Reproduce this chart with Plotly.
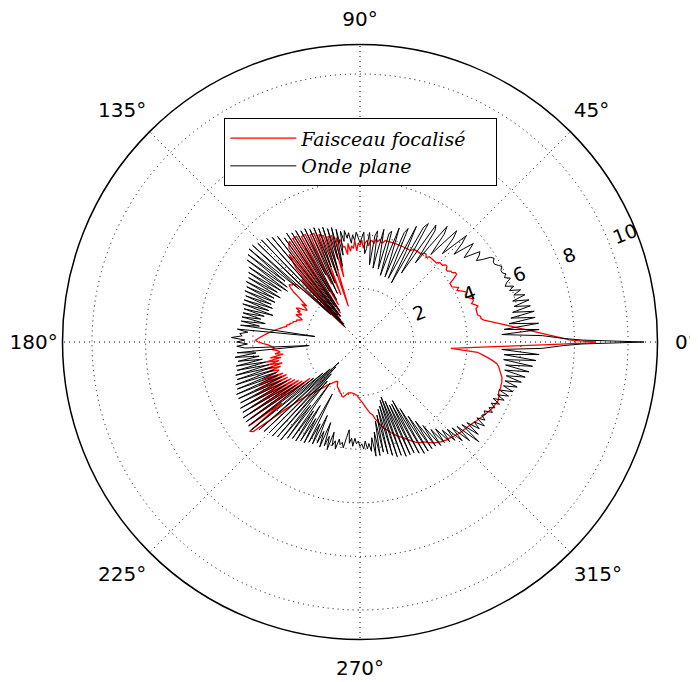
import plotly.graph_objects as go

# ---------------- data ----------------
# Onde plane (black): r for integer angles 2..358 deg
black_deg_start = 2
black_r = [
    6.8, 5.3, 6.7, 5.4, 6.7, 5.6, 6.6, 5.7,
    6.6, 5.8, 6.5, 5.9, 6.5, 5.9, 6.4, 6.0, 6.3, 5.9,
    6.1, 5.8, 5.9, 6.1, 5.9, 6.0, 5.9, 5.9, 6.0, 5.9,
    5.8, 5.8, 5.9, 5.8, 5.5, 5.3, 5.5, 5.6, 5.3, 5.0,
    5.3, 5.6, 5.2, 4.8, 5.3, 5.6, 5.0, 4.5, 5.2, 5.5,
    4.8, 4.2, 5.1, 5.4, 4.4, 3.6, 5.0, 5.2, 3.8, 3.0,
    5.1, 4.9, 2.5, 3.8, 4.8, 3.2, 2.6, 4.6, 4.4, 2.6,
    3.4, 4.5, 3.5, 2.6, 4.3, 4.2, 2.8, 3.4, 4.3, 3.5,
    2.8, 4.2, 4.0, 2.9, 3.7, 4.1, 3.5, 3.3, 4.1, 3.9,
    3.7, 3.9, 4.1, 3.8, 4.0, 3.7, 4.1, 3.9, 4.2, 3.8,
    4.2, 3.3, 4.3, 2.9, 4.4, 3.2, 4.4, 2.8, 4.5, 2.6,
    4.5, 3.0, 4.6, 2.4, 4.6, 2.0, 4.7, 2.8, 4.7, 1.8,
    4.8, 2.2, 4.8, 1.4, 4.9, 1.6, 4.8, 1.2, 5.0, 1.3,
    5.1, 1.1, 5.2, 0.9, 5.3, 0.8, 5.3, 1.5, 5.4, 3.0,
    5.4, 3.6, 5.3, 3.4, 5.2, 3.3, 5.0, 3.5, 4.9, 3.6,
    4.8, 3.4, 4.8, 3.6, 4.7, 3.5, 4.7, 3.6, 4.6, 3.5,
    4.6, 3.6, 4.6, 3.4, 4.5, 3.7, 4.5, 3.8, 4.5, 3.6,
    4.5, 3.8, 4.5, 1.7, 4.6, 4.2, 4.5, 4.4, 4.8, 4.3,
    4.6, 4.2, 4.6, 4.3, 1.9, 4.6, 3.9, 4.7, 3.8, 4.6,
    3.7, 4.7, 3.6, 4.7, 3.5, 4.8, 3.4, 4.8, 3.4, 4.9,
    3.3, 4.9, 3.3, 5.0, 3.2, 5.0, 3.3, 5.0, 3.1, 5.1,
    3.2, 5.1, 3.0, 5.2, 2.9, 5.2, 2.6, 5.2, 2.2, 5.2,
    1.8, 5.0, 1.5, 4.9, 1.1, 4.8, 1.3, 4.8, 1.6, 4.7,
    1.9, 4.7, 3.0, 4.5, 1.9, 4.4, 3.1, 4.4, 2.8, 4.3,
    3.3, 4.3, 2.2, 4.2, 3.4, 4.2, 3.0, 4.1, 3.6, 4.2,
    3.2, 4.1, 3.7, 4.2, 3.5, 4.0, 3.8, 4.1, 3.7, 3.9,
    3.8, 4.0, 3.6, 3.3, 3.8, 3.6, 3.9, 3.6, 3.8, 3.7,
    3.9, 3.8, 4.0, 3.7, 4.0, 3.8, 4.1, 3.6, 4.3, 3.4,
    4.3, 3.0, 4.2, 2.8, 4.3, 2.6, 4.4, 2.5, 4.5, 2.3,
    4.5, 2.2, 4.6, 2.4, 4.6, 2.6, 4.6, 2.6, 4.7, 2.5,
    4.8, 2.9, 4.8, 3.3, 4.8, 3.6, 4.8, 3.9, 4.9, 4.2,
    4.9, 4.3, 5.0, 4.5, 5.1, 4.6, 5.3, 4.7, 5.5, 4.8,
    5.8, 4.9, 5.6, 5.0, 5.5, 5.2, 5.6, 5.2, 5.5, 5.3,
    5.4, 5.3, 5.6, 5.4, 5.6, 5.4, 5.7, 5.4, 5.8, 5.5,
    5.9, 5.5, 6.0, 5.6, 6.1, 5.6, 6.2, 5.6, 6.3, 5.5,
    6.4, 5.5, 6.5, 5.4, 6.6, 5.4, 6.7, 5.3, 6.8,
]
# narrow main lobe of the black curve around 0 deg
black_tip_theta = [359, 359.5, 360, 360.5, 361]
black_tip_r = [7.6, 8.3, 10.6, 8.3, 7.6]

# Faisceau focalise (red): r for integer angles 10..356 deg
red_deg_start = 10
red_r = [
    4.7, 4.6, 4.6, 4.5, 4.5, 4.5, 4.5, 4.6, 4.5, 4.4,
    4.5, 4.5, 4.4, 4.3, 4.3, 4.4, 4.3, 4.2, 4.1, 4.2,
    4.1, 4.0, 4.0, 4.0, 4.2, 4.4, 4.4, 4.3, 4.3, 4.2,
    4.2, 4.3, 4.3, 4.2, 4.2, 4.2, 4.1, 4.1, 4.1, 4.1,
    4.1, 4.1, 4.0, 4.1, 4.1, 4.0, 4.0, 4.0, 4.0, 4.0,
    4.0, 3.9, 3.9, 3.9, 3.9, 3.9, 3.9, 3.9, 3.9, 3.9,
    3.9, 3.9, 3.9, 3.9, 3.9, 3.9, 3.9, 3.8, 3.8, 3.9,
    3.8, 3.9, 3.7, 3.8, 3.8, 3.6, 3.8, 3.7, 3.5, 3.8,
    3.6, 3.7, 3.4, 3.8, 3.5, 3.6, 3.4, 3.7, 3.3, 3.6,
    3.6, 3.9, 3.8, 4.0, 2.5, 4.1, 4.1, 4.1, 1.4, 4.2,
    4.2, 4.3, 1.9, 4.4, 4.4, 4.4, 2.4, 4.5, 4.5, 4.5,
    1.6, 4.6, 4.6, 4.6, 1.3, 4.6, 4.5, 4.4, 1.2, 4.2,
    3.9, 3.6, 0.9, 3.2, 2.8, 0.8, 1.8, 2.6, 3.2, 3.3,
    3.3, 3.4, 3.3, 3.1, 2.8, 2.6, 2.4, 2.6, 2.4, 2.3,
    2.4, 2.6, 2.7, 2.5, 2.6, 2.4, 2.5, 2.6, 2.4, 2.3,
    2.4, 2.5, 2.5, 2.6, 2.6, 2.7, 2.7, 2.8, 2.8, 2.9,
    3.0, 3.1, 3.2, 3.3, 3.4, 3.5, 3.6, 3.7, 3.8, 3.9,
    3.8, 3.6, 3.4, 3.3, 3.2, 3.3, 3.1, 3.0, 3.2, 2.9,
    3.4, 3.0, 3.6, 3.1, 3.5, 3.0, 3.7, 3.1, 3.6, 3.2,
    3.3, 3.9, 3.1, 4.1, 3.0, 4.3, 3.0, 4.4, 2.9, 4.6,
    2.8, 4.7, 2.7, 4.9, 2.6, 5.0, 2.3, 5.2, 3.7, 5.3,
    5.2, 4.4, 3.8, 3.4, 3.1, 2.9, 2.75, 2.6, 2.5, 2.4,
    2.3, 2.2, 2.1, 2.0, 1.95, 1.9, 1.85, 1.8, 1.75, 1.72,
    1.7, 1.7, 1.8, 1.85, 1.9, 1.9, 1.95, 1.95, 2.0, 2.05,
    2.05, 2.1, 2.15, 2.15, 2.1, 2.05, 2.0, 1.95, 1.95, 1.93,
    1.93, 1.92, 1.93, 1.95, 1.95, 1.97, 1.98, 2.0, 2.05, 2.1,
    2.15, 2.2, 2.25, 2.3, 2.38, 2.45, 2.52, 2.6, 2.68, 2.72,
    2.77, 2.9, 3.0, 3.1, 3.2, 3.3, 3.38, 3.43, 3.5, 3.58,
    3.65, 3.72, 3.8, 3.85, 3.9, 3.97, 4.05, 4.12, 4.2, 4.27,
    4.33, 4.38, 4.4, 4.45, 4.52, 4.58, 4.65, 4.7, 4.75, 4.8,
    4.83, 4.86, 4.89, 4.9, 4.93, 4.96, 4.99, 5.02, 5.04, 5.06,
    5.08, 5.1, 5.12, 5.15, 5.18, 5.21, 5.25, 5.28, 5.32, 5.36,
    5.4, 5.43, 5.47, 5.5, 5.53, 5.55, 5.57, 5.6, 5.58, 5.55,
    5.5, 5.5, 5.52, 5.5, 5.5, 5.48, 5.46, 5.4, 5.35, 5.3,
    5.25, 5.17, 5.0, 4.8, 4.6, 4.4, 3.4,
]
# narrow main lobe of the red curve around 0 deg (357 .. 369 deg)
red_tip_theta = [357, 358, 359, 359.4, 359.7, 360, 360.3, 360.6, 361,
                 362, 363, 364, 365, 366, 367, 368, 369]
red_tip_r = [4.06, 5.03, 6.57, 7.5, 8.3, 8.8, 8.2, 7.8, 7.6,
             7.11, 6.68, 6.29, 5.95, 5.65, 5.38, 5.13, 4.9]

radial_ticks = [2, 4, 6, 8, 10]
radial_labels = ["2", "4", "6", "8", "10"]
angle_ticks = [0, 45, 90, 135, 180, 225, 270, 315]
angle_labels = ["0°", "45°", "90°", "135°", "180°", "225°", "270°", "315°"]
series_names = ["Faisceau focalisé", "Onde plane"]

# ---------------- build point lists ----------------
b_theta = [black_deg_start + i for i in range(len(black_r))] + black_tip_theta
b_r = list(black_r) + black_tip_r
b_theta.append(b_theta[0]); b_r.append(b_r[0])

r_theta = red_tip_theta + [red_deg_start + i for i in range(len(red_r))]
r_r = red_tip_r + list(red_r)
r_theta.append(r_theta[0]); r_r.append(r_r[0])

NB = "\u00a0"


def shifted(text, px):
    """raise (px>0) or lower (px<0) a tick label's baseline"""
    return "<span style='baseline-shift:%dpx'>%s</span>" % (px, text)


# radial labels sit just right of the ray (left-aligned in the reference)
radial_text = [shifted(NB * (6 if len(t) > 1 else 4) + t, -5) for t in radial_labels]
# angular labels are centred ~29px outside the circle in the reference
angle_shift = {"0°": 0, "45°": 13, "90°": 10, "135°": 13,
               "180°": 0, "225°": -6, "270°": -11, "315°": -6}
angle_text = []
for t in angle_labels:
    s = (NB * 2 + t) if t == "0°" else t
    angle_text.append(shifted(s, angle_shift[t]) if angle_shift[t] else s)

fig = go.Figure()
fig.add_trace(go.Scatterpolar(theta=r_theta, r=r_r, mode="lines",
                              line=dict(color="red", width=1.3),
                              name=series_names[0] + NB * 4))
fig.add_trace(go.Scatterpolar(theta=b_theta, r=b_r, mode="lines",
                              line=dict(color="black", width=1),
                              name=series_names[1]))

# page body has an 8px margin: figure is sized/placed to compensate
OFF = 8
W, H = 698 - OFF, 682 - OFF
cx0, cx1 = 62.5 - OFF, 657.5 - OFF
cy0, cy1 = 44.5 - OFF, 639.5 - OFF
grid_dash = "1px,4px"

fig.update_layout(
    width=W, height=H,
    margin=dict(l=0, r=0, t=0, b=0),
    paper_bgcolor="white",
    font=dict(family="DejaVu Sans", size=20, color="black"),
    showlegend=True,
    polar=dict(
        domain=dict(x=[cx0 / W, cx1 / W], y=[1 - cy1 / H, 1 - cy0 / H]),
        bgcolor="white",
        radialaxis=dict(
            range=[0, 11.1], tickvals=radial_ticks, ticktext=radial_text,
            angle=21, side="counterclockwise", tickangle=0,
            showline=False, ticks="",
            showgrid=True, gridcolor="black", griddash=grid_dash, gridwidth=1,
            tickfont=dict(family="DejaVu Sans", size=19, color="black"),
        ),
        angularaxis=dict(
            rotation=0, direction="counterclockwise",
            tickvals=angle_ticks, ticktext=angle_text,
            showline=True, linecolor="black", linewidth=1.5,
            showgrid=True, gridcolor="black", griddash=grid_dash, gridwidth=1,
            ticks="",
            tickfont=dict(family="DejaVu Sans", size=20, color="black"),
        ),
    ),
    legend=dict(
        x=(224 - OFF) / W, y=1 - (118 - OFF) / H, xanchor="left", yanchor="top",
        bordercolor="black", borderwidth=1.3, bgcolor="white",
        font=dict(family="DejaVu Serif", size=19, style="italic", color="black"),
        tracegroupgap=0, itemwidth=66,
    ),
)

fig.write_html("out.html")
